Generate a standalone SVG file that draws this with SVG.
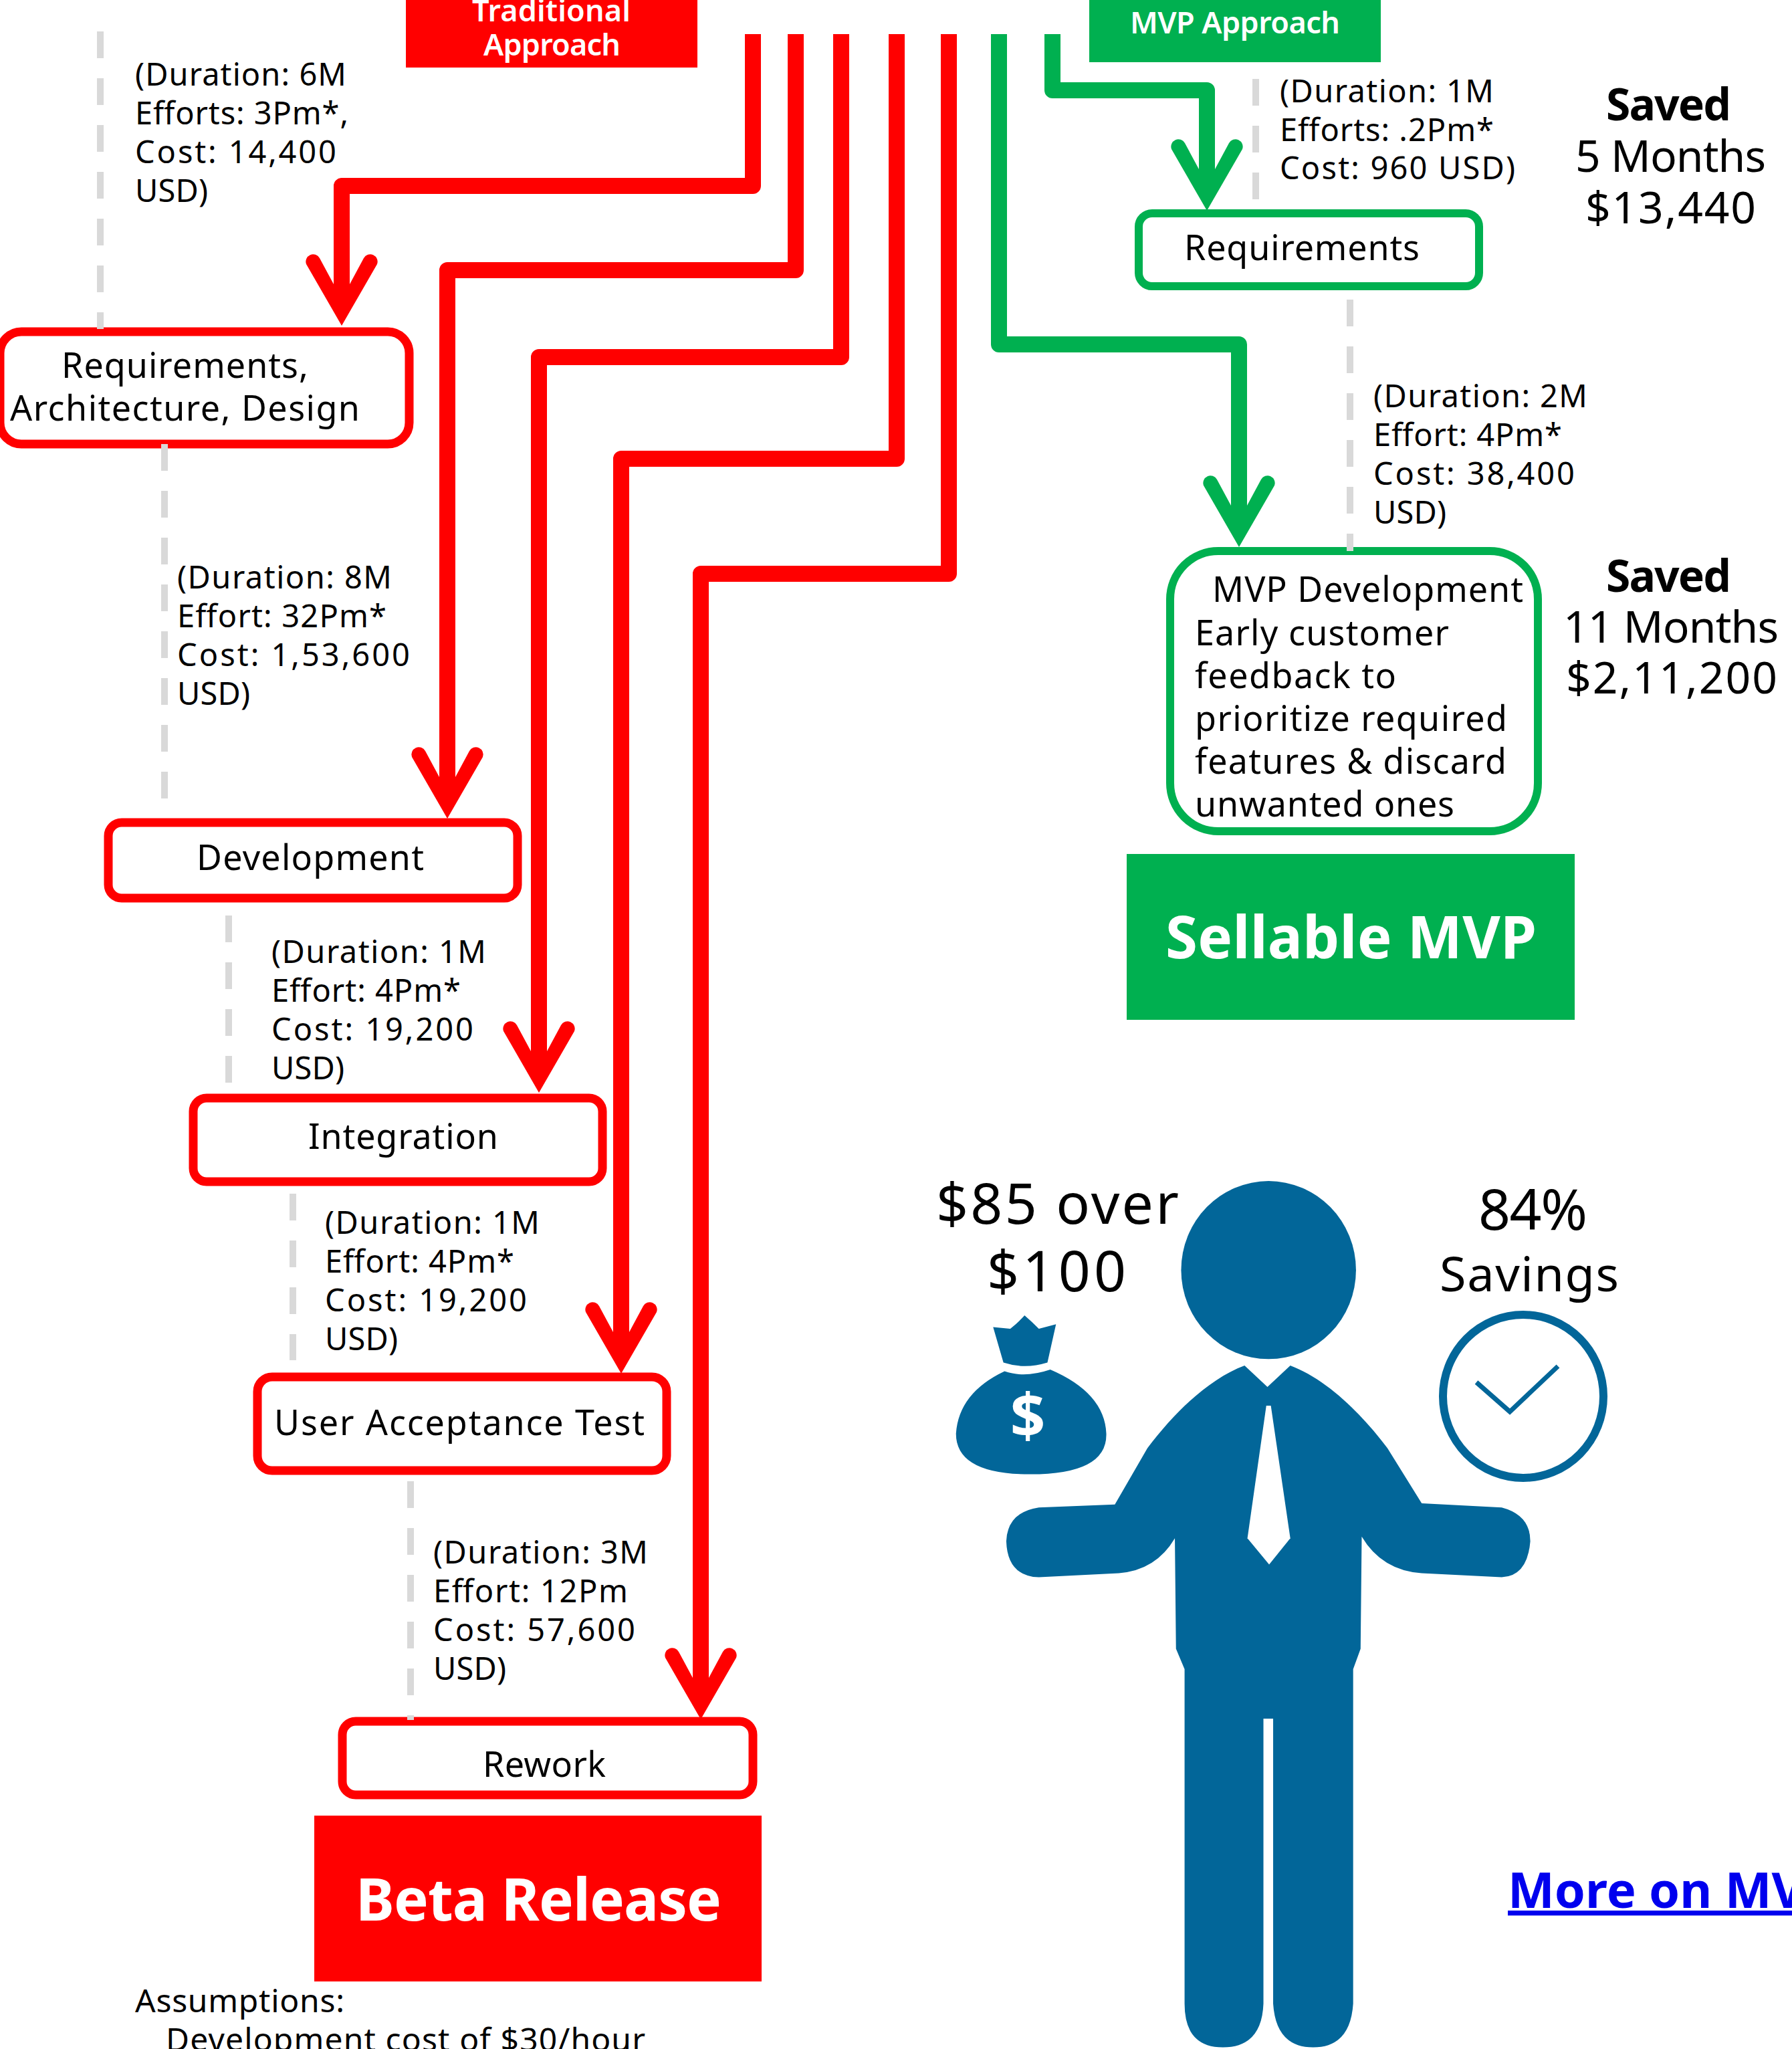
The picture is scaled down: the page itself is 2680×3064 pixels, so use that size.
<svg xmlns="http://www.w3.org/2000/svg" width="2680" height="3064" viewBox="0 0 2680 3064">
<style>
text{font-family:"Noto Sans","DejaVu Sans",sans-serif;fill:#000}
.d{font-size:47px}
.b{font-size:52px}
.s{font-size:66px}
.w{fill:#fff;font-weight:700}
.t{fill:#fff;font-weight:600;font-size:45px}
.h{font-weight:700}
.r{fill:#fff;stroke:#f00;stroke-width:13}
.g{fill:#fff;stroke:#00b050;stroke-width:12}
.cr{fill:none;stroke:#f00;stroke-width:24;stroke-linejoin:round;marker-end:url(#ar)}
.cg{fill:none;stroke:#00b050;stroke-width:24;stroke-linejoin:round;marker-end:url(#ag)}
.dash{fill:none;stroke:#d9d9d9;stroke-width:10;stroke-dasharray:40 30}
.fig{fill:#026699}
</style>
<defs>
<marker id="ar" markerUnits="userSpaceOnUse" markerWidth="200" markerHeight="200" refX="0" refY="0" orient="auto" overflow="visible"><path fill="#f00" d="M60 0L-32 -53A11 11 0 0 0 -41 -33L-2 -12V12L-41 33A11 11 0 0 0 -32 53Z"/></marker>
<marker id="ag" markerUnits="userSpaceOnUse" markerWidth="200" markerHeight="200" refX="0" refY="0" orient="auto" overflow="visible"><path fill="#00b050" d="M60 0L-32 -53A11 11 0 0 0 -41 -33L-2 -12V12L-41 33A11 11 0 0 0 -32 53Z"/></marker>
</defs>
<rect width="2680" height="3064" fill="#fff"/>

<g id="traditional-header"><rect x="607" y="-2" width="436" height="103" fill="#f00"/>
<text class="t" x="706" y="32" textLength="237">Traditional</text><text class="t" x="723" y="83" textLength="205">Approach</text></g>
<g id="mvp-header"><rect x="1629" y="-2" width="436" height="95" fill="#00b050"/>
<text class="t" x="1690" y="50" textLength="314">MVP Approach</text></g>

<g id="req-arch-design"><rect class="r" x="0" y="496" width="612" height="168" rx="32"/>
<text class="b" x="92" y="565" textLength="369">Requirements,</text><text class="b" x="15" y="629" textLength="523">Architecture, Design</text></g>
<g id="development"><rect class="r" x="162" y="1230" width="612" height="113" rx="20"/><text class="b" x="294" y="1301" textLength="340">Development</text></g>
<g id="integration"><rect class="r" x="289" y="1642" width="612" height="125" rx="20"/><text class="b" x="461" y="1718" textLength="284">Integration</text></g>
<g id="uat"><rect class="r" x="385" y="2059" width="612" height="140" rx="22"/><text class="b" x="410" y="2146" textLength="554">User Acceptance Test</text></g>
<g id="rework"><rect class="r" x="512" y="2574" width="614" height="110" rx="20"/><text class="b" x="722" y="2657" textLength="184">Rework</text></g>
<g id="beta"><rect x="470" y="2715" width="669" height="248" fill="#f00"/><text class="w" font-size="87" x="532" y="2872" textLength="547">Beta Release</text></g>

<g id="req-mvp"><rect class="g" x="1703" y="319" width="509" height="109" rx="20"/><text class="b" x="1771" y="389" textLength="352">Requirements</text></g>
<g id="mvp-dev"><rect class="g" x="1750" y="824" width="550" height="419" rx="72"/>
<text class="b" x="1813" y="900" textLength="465">MVP Development</text>
<text class="b" x="1787" y="965" textLength="380">Early customer</text>
<text class="b" x="1787" y="1029" textLength="301">feedback to</text>
<text class="b" x="1787" y="1093" textLength="467">prioritize required</text>
<text class="b" x="1787" y="1157" textLength="466">features &amp; discard</text>
<text class="b" x="1787" y="1221" textLength="388">unwanted ones</text></g>
<g id="sellable"><rect x="1685" y="1277" width="670" height="248" fill="#00b050"/><text class="w" font-size="87" x="1743" y="1433" textLength="555">Sellable MVP</text></g>

<g id="notes">
<text class="d" x="202" y="128" textLength="316">(Duration: 6M</text><text class="d" x="202" y="186" textLength="319">Efforts: 3Pm*,</text><text class="d" x="202" y="244" textLength="301">Cost: 14,400</text><text class="d" x="202" y="302" textLength="109">USD)</text>
<text class="d" x="265" y="880" textLength="321">(Duration: 8M</text><text class="d" x="265" y="938" textLength="313">Effort: 32Pm*</text><text class="d" x="265" y="996" textLength="348">Cost: 1,53,600</text><text class="d" x="265" y="1054" textLength="109">USD)</text>
<text class="d" x="406" y="1440" textLength="321">(Duration: 1M</text><text class="d" x="406" y="1498" textLength="283">Effort: 4Pm*</text><text class="d" x="406" y="1556" textLength="302">Cost: 19,200</text><text class="d" x="406" y="1614" textLength="109">USD)</text>
<text class="d" x="486" y="1845" textLength="321">(Duration: 1M</text><text class="d" x="486" y="1903" textLength="283">Effort: 4Pm*</text><text class="d" x="486" y="1961" textLength="302">Cost: 19,200</text><text class="d" x="486" y="2019" textLength="109">USD)</text>
<text class="d" x="648" y="2338" textLength="321">(Duration: 3M</text><text class="d" x="648" y="2396" textLength="291">Effort: 12Pm</text><text class="d" x="648" y="2454" textLength="302">Cost: 57,600</text><text class="d" x="648" y="2512" textLength="109">USD)</text>
<text class="d" x="1914" y="153" textLength="320">(Duration: 1M</text><text class="d" x="1914" y="211" textLength="320">Efforts: .2Pm*</text><text class="d" x="1914" y="268" textLength="352">Cost: 960 USD)</text>
<text class="d" x="2054" y="609" textLength="320">(Duration: 2M</text><text class="d" x="2054" y="667" textLength="282">Effort: 4Pm*</text><text class="d" x="2054" y="725" textLength="301">Cost: 38,400</text><text class="d" x="2054" y="783" textLength="109">USD)</text>
<text x="202" y="3009" font-size="48" textLength="313">Assumptions:</text>
<text x="248" y="3067" font-size="48" textLength="717">Development cost of $30/hour</text>
</g>
<g id="saved">
<text class="s h" x="2402" y="180" textLength="187">Saved</text><text class="s" x="2356" y="257" textLength="285">5 Months</text><text class="s" x="2371" y="334" textLength="255">$13,440</text>
<text class="s h" x="2402" y="885" textLength="187">Saved</text><text class="s" x="2338" y="961" textLength="322">11 Months</text><text class="s" x="2342" y="1037" textLength="316">$2,11,200</text>
</g>

<g id="person">
<g transform="translate(1340 1700) scale(.8546 .87)">
<ellipse class="fig" cx="652" cy="229" rx="153" ry="153"/>
<path class="fig" d="M610 393L650 430L690 393C750 415 810 470 860 535L920 630L1060 637Q1110 650 1110 695Q1105 755 1060 757L920 750Q850 745 815 687L813 880L800 915V1490Q795 1565 730 1565Q665 1565 660 1490V1000H643V1490Q640 1565 572 1565Q505 1565 505 1490V915L490 880L488 690Q455 745 390 750L250 757Q195 755 193 695Q195 645 250 637L383 632L440 535C490 470 550 415 610 393Z"/>
<path fill="#fff" d="M648 462H656L690 690L653 735L615 690Z"/>
</g></g>
<g id="money-bag">
<g transform="translate(1340 1700) scale(.8546 .87)">
<path class="fig" d="M170 327L200 330Q215 318 225 307Q238 318 250 330L280 322L265 388Q225 400 188 388Z"/>
<path class="fig" d="M190 403Q225 415 270 400Q365 440 368 510Q370 580 235 580Q105 580 105 510Q110 440 190 403Z"/>
</g>
<text class="w" font-size="92" x="1537" y="2150" text-anchor="middle">$</text></g>
<g id="check">
<ellipse cx="2278" cy="2088" rx="120" ry="122" fill="none" stroke="#026699" stroke-width="12"/>
<path d="M2208 2067L2258 2111L2330 2043" fill="none" stroke="#026699" stroke-width="7"/></g>
<g id="labels">
<text font-size="84" x="1400" y="1830" textLength="363">$85 over</text>
<text font-size="84" x="1476" y="1931" textLength="208">$100</text>
<text font-size="84" x="2211" y="1839" textLength="163">84%</text>
<text font-size="72" x="2153" y="1931" textLength="268">Savings</text>
<text font-size="74" x="2255" y="2853" font-weight="700" style="fill:#00e" text-decoration="underline">More on MV</text>
</g>

<g id="connectors">
<path class="cr" d="M1126 51V278H511V427"/>
<path class="cr" d="M1190 51V404H669V1164"/>
<path class="cr" d="M1258 51V534H806V1574"/>
<path class="cr" d="M1341 51V686H929V1994"/>
<path class="cr" d="M1419 51V858H1048V2511"/>
<path class="cg" d="M1574 51V135H1805V255"/>
<path class="cg" d="M1494 51V515H1853V758"/>
<path class="dash" d="M150 47V492"/>
<path class="dash" d="M246 664V1196"/>
<path class="dash" d="M342 1369V1620"/>
<path class="dash" d="M438 1785V2034"/>
<path class="dash" d="M614 2215V2572"/>
<path class="dash" d="M1878 118V298"/>
<path class="dash" d="M2019 448V824"/>
</g>
</svg>
